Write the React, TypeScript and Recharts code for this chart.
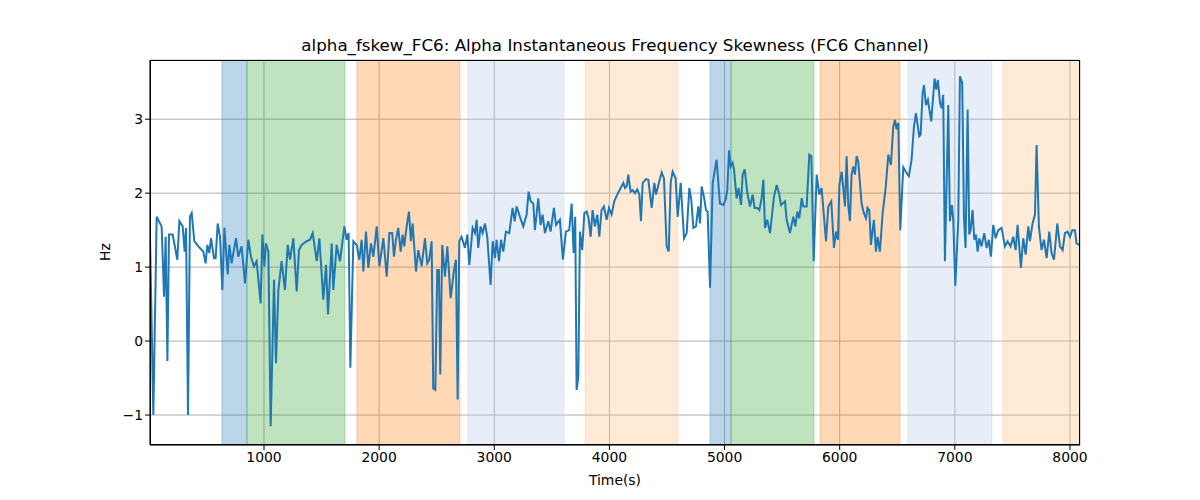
import React from "react";
import { ComposedChart, Line, XAxis, YAxis, CartesianGrid, ReferenceArea } from "recharts";

const times = [10,39,68,111,132,146,161,175,207,247,265,294,311,323,340,357,372,395,430,473,493,508,525,540,566,580,598,618,638,656,685,699,719,734,757,777,806,835,864,887,913,936,971,986,1003,1017,1038,1058,1087,1104,1125,1153,1182,1206,1226,1255,1284,1304,1327,1371,1400,1423,1458,1481,1515,1539,1556,1588,1602,1631,1660,1698,1718,1735,1750,1776,1805,1828,1848,1863,1886,1906,1929,1950,1979,2002,2037,2066,2089,
2114,2129,2146,2166,2187,2204,2218,2239,2259,2276,2291,2320,2340,2369,2398,2418,2435,2456,2470,2488,2505,2519,2531,2548,2572,2592,2621,2650,2667,2682,2696,2716,2745,2766,2783,2812,2832,2847,2861,2881,2899,2919,2939,2968,2986,3006,3020,3041,3058,3078,3101,3130,3159,3177,3194,3223,3252,3281,3298,3316,3339,3353,3382,3402,3420,3440,3469,3489,3518,3536,3570,3596,3622,3651,3672,3689,3703,3715,3730,3744,3764,3782,3802,3819,3837,3854,3874,3895,3912,3932,3952,3976,3996,4019,4042,4068,4091,
4121,4135,4150,4164,4184,4202,4222,4242,4260,4274,4289,4318,4338,4367,4390,4405,4425,4454,4474,4497,4515,4532,4549,4575,4593,4619,4648,4671,4694,4711,4729,4752,4772,4787,4801,4821,4839,4853,4874,4897,4931,4960,4989,5010,5024,5039,5053,5070,5082,5105,5122,5143,5157,5175,5198,5221,5244,5261,5285,5302,5322,5337,5351,5371,5395,5429,5453,5473,5490,5525,5539,5568,5597,5615,5632,5649,5670,5684,5713,5736,5754,5774,5800,5823,5843,5881,5901,5927,5950,5968,5985,5997,6017,6046,6060,6075,6089,
6103,6118,6132,6147,6161,6190,6210,6228,6242,6257,6271,6297,6315,6329,6349,6373,6399,6422,6445,6465,6480,6494,6509,6526,6552,6581,6601,6624,6645,6662,6691,6703,6720,6732,6749,6766,6795,6824,6839,6853,6871,6885,6899,6914,6943,6957,6975,6986,7004,7030,7044,7064,7079,7093,7111,7125,7137,7154,7169,7183,7198,7212,7232,7255,7276,7296,7313,7334,7354,7377,7406,7435,7458,7484,7507,7528,7545,7574,7594,7615,7638,7652,7675,7696,7710,7730,7753,7774,7797,7820,7840,7861,7890,7913,7936,7956,7979,8000,8020,8043,8057,8081];

const values = [1.41,-1.0,1.68,1.55,0.6,1.41,-0.27,1.44,1.44,1.1,1.62,1.55,1.21,1.53,-1.0,1.68,1.73,1.35,1.28,1.21,1.05,1.3,1.19,1.39,1.12,1.12,1.59,1.41,0.69,1.53,0.9,1.3,1.05,1.19,1.39,1.14,1.28,0.78,1.37,1.14,1.01,1.08,0.51,1.44,1.01,1.32,1.21,-1.15,0.83,-0.3,0.69,1.08,0.69,1.3,1.1,1.39,0.67,1.23,1.3,1.35,1.37,1.46,1.08,1.39,0.56,1.03,0.36,1.32,0.69,1.3,1.08,1.55,1.37,1.46,-0.36,1.35,1.3,1.1,1.37,0.94,1.48,0.99,1.32,1.14,1.55,1.01,1.39,0.87,1.46,
1.46,1.14,1.37,1.53,1.21,1.44,1.28,1.55,1.75,1.35,1.59,0.94,1.23,1.01,1.39,1.05,1.1,1.35,-0.64,-0.66,0.96,0.96,-0.45,1.3,0.87,1.28,0.58,0.96,1.1,-0.79,1.35,1.41,1.26,1.44,1.03,1.53,1.46,1.64,1.26,1.55,1.46,1.59,1.41,0.76,1.35,1.12,1.37,1.08,1.37,1.21,1.48,1.46,1.8,1.62,1.82,1.68,1.55,1.71,2.02,1.89,1.86,1.5,1.93,1.57,1.71,1.46,1.62,1.48,1.8,1.57,1.64,1.1,1.48,1.5,1.86,1.19,1.68,-0.66,-0.48,1.48,1.23,1.73,1.75,1.66,1.41,1.77,1.55,1.71,1.41,1.77,1.82,1.64,1.8,1.71,1.89,1.98,2.05,
2.14,2.07,2.09,2.25,2.02,2.04,2.0,2.05,1.98,1.62,2.14,2.19,2.18,1.8,2.14,1.98,2.11,2.28,2.2,1.28,1.21,2.14,2.29,2.2,1.68,2.14,1.39,1.46,2.07,1.91,1.53,1.55,1.82,1.59,2.09,1.95,1.77,1.75,0.72,2.14,2.45,1.86,1.84,1.91,2.05,2.58,2.36,2.41,2.32,1.93,2.07,1.84,2.25,2.32,2.0,1.82,1.98,1.8,1.8,1.77,1.93,2.18,1.53,1.64,1.46,1.95,2.11,2.0,1.84,1.89,1.64,1.46,1.68,1.55,1.75,1.66,1.93,1.82,1.82,2.52,2.5,1.08,2.25,1.98,2.07,1.35,1.82,1.89,1.26,1.48,1.37,2.11,2.29,1.82,2.5,1.82,1.62,
2.25,2.36,2.25,2.5,2.43,1.86,1.73,1.66,1.8,1.77,1.3,1.64,1.21,1.41,1.21,1.73,2.07,2.52,2.38,2.9,2.99,2.86,2.95,1.5,2.35,2.27,2.23,2.45,2.9,3.08,2.77,2.79,3.35,3.46,3.19,3.26,2.97,3.55,3.4,3.53,3.22,3.15,3.33,1.08,3.19,1.62,1.84,1.64,0.75,1.64,3.58,3.49,1.68,1.26,3.13,1.44,1.5,1.77,1.37,1.44,1.21,1.39,1.28,1.46,1.26,1.37,1.14,1.57,1.39,1.5,1.53,1.28,1.35,1.28,1.41,1.23,1.57,0.99,1.39,1.17,1.55,1.35,1.59,1.71,2.65,1.55,1.23,1.37,1.12,1.48,1.19,1.1,1.59,1.28,1.23,1.46,1.48,1.41,1.5,1.5,1.32,1.3];

const regionStarts = [635, 852, 1807, 2772, 3788, 4874, 5056, 5829, 6593, 7418];
const regionEnds = [852, 1703, 2702, 3606, 4596, 5056, 5777, 6524, 7323, 8087];
const regionColors = ["#1f77b4", "#2ca02c", "#ff7f0e", "#aec7e8", "#ffbb78", "#1f77b4", "#2ca02c", "#ff7f0e", "#aec7e8", "#ffbb78"];
const xTicks = [1000, 2000, 3000, 4000, 5000, 6000, 7000, 8000];
const yTicks = [-1, 0, 1, 2, 3];

const data = times.map((t, i) => ({ t, v: values[i] }));
const font = "DejaVu Sans, sans-serif";
const fmt = (v: number) => String(v).replace("-", "\u2212");

export default function App() {
  return (
    <div style={{ position: "relative", width: 1184, height: 484, fontFamily: font }}>
      <div style={{ position: "absolute", left: 142, width: 930, top: 27, textAlign: "center", fontSize: 16.7, color: "#000" }}>
        alpha_fskew_FC6: Alpha Instantaneous Frequency Skewness (FC6 Channel)
      </div>
      <div style={{ position: "absolute", left: 142, width: 930, top: 464, textAlign: "center", fontSize: 13.9 }}>Time(s)</div>
      <div style={{ position: "absolute", left: 88, top: 236, fontSize: 13.9, transform: "rotate(-90deg)" }}>Hz</div>
      <ComposedChart width={1184} height={484} data={data} margin={{ top: 52, right: 112, bottom: 17, left: 82 }}>
        {regionStarts.map((s, i) => (
          <ReferenceArea key={i} x1={s} x2={regionEnds[i]} y1={-1.405} y2={3.8} fill={regionColors[i]} fillOpacity={0.3} stroke={regionColors[i]} strokeOpacity={0.3} ifOverflow="hidden" />
        ))}
        <CartesianGrid stroke="#b0b0b0" strokeWidth={1} horizontal vertical />
        <XAxis dataKey="t" type="number" domain={[10, 8087]} ticks={xTicks} height={30} allowDataOverflow
          tick={{ fill: "#000", fontSize: 13.9, fontFamily: font }} tickLine={{ stroke: "#000" }} axisLine={{ stroke: "#000" }} tickSize={5} />
        <YAxis type="number" domain={[-1.405, 3.8]} ticks={yTicks} width={60} allowDataOverflow tickFormatter={fmt}
          tick={{ fill: "#000", fontSize: 13.9, fontFamily: font }} tickLine={{ stroke: "#000" }} axisLine={{ stroke: "#000" }} tickSize={5} />
        <Line dataKey="v" stroke="#1f77b4" strokeWidth={2} dot={false} isAnimationActive={false} />
      </ComposedChart>
      <div style={{ position: "absolute", left: 142, top: 52, width: 930, height: 385, border: "1px solid #000", boxSizing: "border-box", pointerEvents: "none" }} />
    </div>
  );
}
